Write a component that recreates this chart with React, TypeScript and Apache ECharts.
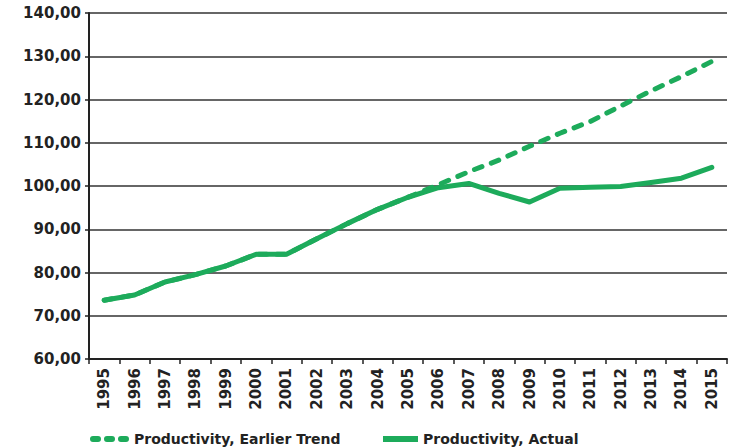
import React, { useEffect, useRef } from "react";
import * as echarts from "echarts";

const years = ["1995","1996","1997","1998","1999","2000","2001","2002","2003","2004","2005","2006","2007","2008","2009","2010","2011","2012","2013","2014","2015"];
const actual = [73.6, 74.8, 77.8, 79.5, 81.5, 84.2, 84.2, 87.8, 91.3, 94.6, 97.4, 99.6, 100.6, 98.3, 96.3, 99.5, 99.7, 99.9, 100.8, 101.8, 104.3];
const trend = [73.6, 74.8, 77.8, 79.5, 81.5, 84.2, 84.2, 87.8, 91.3, 94.6, 97.4, 100.3, 103.3, 106.0, 109.2, 112.2, 114.9, 118.5, 122.0, 125.3, 128.8];
const seriesNames = ["Productivity, Earlier Trend", "Productivity, Actual"];

const GREEN = "#1DAB5B";
const FONT = "DejaVu Sans";

const dashedIcon =
  "path://M3,0H8A3,3 0 0 1 8,6H3A3,3 0 0 1 3,0Z" +
  "M17,0H22A3,3 0 0 1 22,6H17A3,3 0 0 1 17,0Z" +
  "M31,0H36A3,3 0 0 1 36,6H31A3,3 0 0 1 31,0Z";

const legendText = { fontFamily: FONT, fontWeight: "bold", fontSize: 14, color: "#222" };

export default function App() {
  const ref = useRef<HTMLDivElement>(null);
  useEffect(() => {
    if (!ref.current) return;
    const chart = echarts.init(ref.current, undefined, { renderer: "svg" });
    chart.setOption({
      animation: false,
      grid: { left: 89, right: 4, top: 13, bottom: 89, containLabel: false },
      legend: [
        {
          left: 90,
          top: 432,
          padding: 0,
          itemWidth: 39,
          itemHeight: 6,
          itemGap: 5,
          textStyle: legendText,
          data: [{ name: seriesNames[0], icon: dashedIcon }],
        },
        {
          left: 383,
          top: 432,
          padding: 0,
          itemWidth: 35,
          itemHeight: 6,
          textStyle: legendText,
          data: [{ name: seriesNames[1], icon: "rect" }],
        },
      ],
      xAxis: {
        type: "category",
        data: years,
        boundaryGap: true,
        axisLine: { lineStyle: { color: "#222", width: 2 } },
        axisTick: { show: true, interval: 0, length: 5, lineStyle: { color: "#222", width: 1.5 } },
        axisLabel: {
          interval: 0,
          rotate: 90,
          margin: 9,
          fontFamily: FONT,
          fontWeight: "bold",
          fontSize: 15,
          color: "#222",
        },
      },
      yAxis: {
        type: "value",
        min: 60,
        max: 140,
        interval: 10,
        axisLine: { show: true, lineStyle: { color: "#222", width: 2 } },
        axisTick: { show: true, length: 4, lineStyle: { color: "#222", width: 1.5 } },
        splitLine: { lineStyle: { color: "#333", width: 1.5 } },
        axisLabel: {
          margin: 8,
          fontFamily: FONT,
          fontWeight: "bold",
          fontSize: 15,
          color: "#222",
          formatter: (v: number) => v.toFixed(2).replace(".", ","),
        },
      },
      series: [
        {
          name: seriesNames[0],
          type: "line",
          data: trend,
          symbol: "none",
          lineStyle: { color: GREEN, width: 5, type: [8, 10], cap: "round" },
          itemStyle: { color: GREEN },
          z: 2,
        },
        {
          name: seriesNames[1],
          type: "line",
          data: actual,
          symbol: "none",
          lineStyle: { color: GREEN, width: 5, cap: "round", join: "round" },
          itemStyle: { color: GREEN },
          z: 3,
        },
      ],
    });
    return () => chart.dispose();
  }, []);
  return <div ref={ref} style={{ width: 731, height: 448, position: "absolute", left: 0, top: 0 }} />;
}
